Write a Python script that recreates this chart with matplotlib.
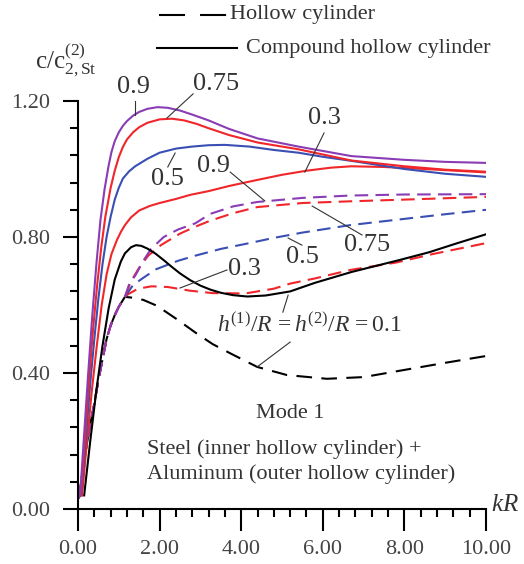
import matplotlib
matplotlib.use("Agg")
import matplotlib.pyplot as plt
from matplotlib.lines import Line2D
from matplotlib.ticker import MultipleLocator

plt.rcParams["font.family"] = "Liberation Serif"
plt.rcParams["mathtext.fontset"] = "custom"
plt.rcParams["mathtext.rm"] = "Liberation Serif"
plt.rcParams["mathtext.it"] = "Liberation Serif:italic"

PURPLE = "#8a3cb4"
RED = "#f0262a"
BLUE = "#3a4fb3"
INK = "#333333"

# compound hollow cylinder (solid)
x_c09 = [0.05, 0.15, 0.25, 0.35, 0.45, 0.55, 0.65, 0.75, 0.82, 0.9, 1.0, 1.1, 1.2, 1.35,
         1.5, 1.7, 1.95, 2.2, 2.5, 2.8, 3.2, 3.7, 4.4, 5.4, 6.7, 8.0, 9.0, 10.0]
y_c09 = [0.04, 0.22, 0.40, 0.57, 0.72, 0.85, 0.94, 1.01, 1.05, 1.082, 1.108, 1.127, 1.141,
         1.157, 1.168, 1.177, 1.182, 1.18, 1.172, 1.16, 1.143, 1.118, 1.09, 1.066, 1.038,
         1.027, 1.021, 1.018]
x_c075 = [0.07, 0.17, 0.27, 0.37, 0.47, 0.57, 0.67, 0.8, 0.9, 1.0, 1.1, 1.2, 1.35, 1.5,
          1.7, 2.0, 2.3, 2.6, 2.9, 3.2, 3.7, 4.4, 5.4, 6.7, 8.0, 9.0, 10.0]
y_c075 = [0.04, 0.21, 0.38, 0.53, 0.66, 0.77, 0.86, 0.945, 0.995, 1.035, 1.065, 1.087,
          1.108, 1.123, 1.136, 1.146, 1.148, 1.143, 1.133, 1.12, 1.1, 1.078, 1.058, 1.025,
          1.008, 0.998, 0.992]
x_c05 = [0.08, 0.2, 0.3, 0.4, 0.5, 0.6, 0.7, 0.8, 0.9, 1.0, 1.1, 1.25, 1.4, 1.7, 2.0, 2.4,
         2.8, 3.2, 3.6, 4.2, 4.8, 5.4, 6.0, 6.7, 8.0, 9.0, 10.0]
y_c05 = [0.04, 0.22, 0.37, 0.5, 0.62, 0.72, 0.8, 0.86, 0.91, 0.945, 0.972, 0.993, 1.008,
         1.03, 1.048, 1.06, 1.066, 1.07, 1.071, 1.066, 1.056, 1.048, 1.036, 1.024, 1.0,
         0.986, 0.977]
x_c03 = [0.1, 0.22, 0.34, 0.46, 0.58, 0.7, 0.82, 0.95, 1.05, 1.15, 1.3, 1.5, 1.75, 2.0,
         2.4, 2.75, 3.2, 3.7, 4.4, 5.0, 5.6, 6.2, 6.7, 7.5, 8.5, 10.0]
y_c03 = [0.04, 0.2, 0.35, 0.48, 0.6, 0.69, 0.75, 0.79, 0.815, 0.835, 0.858, 0.878, 0.891,
         0.9, 0.912, 0.924, 0.935, 0.95, 0.968, 0.983, 0.995, 1.004, 1.008, 1.006, 1.0,
         0.99]
x_c01 = [0.15, 0.3, 0.45, 0.6, 0.75, 0.9, 1.05, 1.15, 1.3, 1.42, 1.55, 1.7, 1.9, 2.1, 2.3,
         2.5, 2.75, 3.0, 3.25, 3.5, 3.8, 4.15, 4.6, 5.2, 5.8, 6.7, 7.3, 7.9, 8.6, 9.3, 10.0]
y_c01 = [0.04, 0.2, 0.35, 0.48, 0.59, 0.675, 0.728, 0.752, 0.77, 0.776, 0.774, 0.766,
         0.751, 0.732, 0.712, 0.693, 0.673, 0.657, 0.645, 0.636, 0.629, 0.625, 0.628, 0.64,
         0.665, 0.697, 0.715, 0.733, 0.755, 0.782, 0.808]

# hollow cylinder (dashed) - shared rising branch
x_rise = [0.02, 0.1, 0.2, 0.3, 0.4, 0.5, 0.6, 0.7, 0.8, 0.9, 1.0, 1.15]
y_rise = [0.03, 0.1, 0.18, 0.25, 0.31, 0.38, 0.44, 0.5, 0.54, 0.57, 0.595, 0.624]
x_h01 = [1.3, 1.6, 1.93, 2.4, 2.9, 3.3, 3.73, 4.39, 5.12, 6.1, 7.0, 7.9, 9.0, 10.0]
y_h01 = [0.622, 0.615, 0.598, 0.56, 0.517, 0.485, 0.458, 0.418, 0.394, 0.383, 0.388,
         0.407, 0.43, 0.45]
x_h03 = [1.23, 1.47, 1.8, 2.2, 2.75, 3.3, 4.1, 4.8, 5.2, 5.8, 6.67, 7.8, 8.7, 10.0]
y_h03 = [0.632, 0.648, 0.655, 0.653, 0.642, 0.635, 0.634, 0.648, 0.663, 0.678, 0.703,
         0.725, 0.75, 0.782]
x_h05 = [1.35, 1.6, 1.91, 2.45, 2.87, 3.5, 4.2, 4.78, 5.5, 6.67, 7.9, 9.0, 10.0]
y_h05 = [0.659, 0.68, 0.705, 0.73, 0.745, 0.765, 0.782, 0.797, 0.813, 0.835, 0.852,
         0.867, 0.88]
x_h075 = [1.3, 1.5, 1.72, 2.03, 2.5, 2.87, 3.24, 3.8, 4.39, 5.5, 6.67, 8.0, 9.0, 10.0]
y_h075 = [0.67, 0.71, 0.745, 0.776, 0.81, 0.83, 0.848, 0.87, 0.888, 0.9, 0.905, 0.91,
          0.914, 0.918]
x_h09 = [1.25, 1.42, 1.6, 1.79, 2.1, 2.45, 2.87, 3.24, 3.8, 4.39, 5.5, 6.67, 8.0, 10.0]
y_h09 = [0.66, 0.69, 0.73, 0.765, 0.8, 0.822, 0.84, 0.868, 0.89, 0.903, 0.915, 0.922,
         0.925, 0.926]

fig = plt.figure(figsize=(5.24, 5.64), dpi=100)
ax = fig.add_axes([0.1489, 0.0975, 0.7786, 0.7234])

lw = 1.5
dash_k = (7.5, 4.5)
dash_c = (6.5, 3.5)
ax.plot(x_rise + x_h01, y_rise + y_h01, color="black", lw=lw, dashes=dash_k)
ax.plot(x_rise + x_h03, y_rise + y_h03, color=RED, lw=lw, dashes=dash_c)
ax.plot(x_rise + x_h05, y_rise + y_h05, color=BLUE, lw=lw, dashes=dash_c)
ax.plot(x_rise + x_h075, y_rise + y_h075, color=RED, lw=lw, dashes=dash_c)
ax.plot(x_rise + x_h09, y_rise + y_h09, color=PURPLE, lw=lw, dashes=dash_c)

ax.plot(x_c01, y_c01, color="black", lw=lw)
ax.plot(x_c03, y_c03, color=RED, lw=lw)
ax.plot(x_c05, y_c05, color=BLUE, lw=lw)
ax.plot(x_c075, y_c075, color=RED, lw=lw)
ax.plot(x_c09, y_c09, color=PURPLE, lw=lw)

ax.set_xlim(0, 10)
ax.set_ylim(0, 1.2)
for s in ["top", "right"]:
    ax.spines[s].set_visible(False)
for s in ["left", "bottom"]:
    ax.spines[s].set_linewidth(1.5)
ax.xaxis.set_major_locator(MultipleLocator(2))
ax.xaxis.set_minor_locator(MultipleLocator(0.4))
ax.yaxis.set_major_locator(MultipleLocator(0.4))
ax.yaxis.set_minor_locator(MultipleLocator(0.08))
ax.xaxis.set_major_formatter(lambda v, p: f"{v:.2f}")
ax.yaxis.set_major_formatter(lambda v, p: f"{v:.2f}")
ax.tick_params(axis="x", which="major", length=16, width=1.5, direction="out",
               labelsize=16, pad=6, labelcolor="#444444")
ax.tick_params(axis="x", which="minor", length=5.5, width=1.5, direction="out")
ax.tick_params(axis="y", which="major", length=11, width=1.5, direction="out",
               labelsize=16, pad=9, labelcolor="#444444")
ax.tick_params(axis="y", which="minor", length=5.5, width=1.5, direction="out")

# curve labels and leader lines
labels = [
    ("0.9", 1.35, 1.241, (1.40, 1.40), (1.2, 1.159)),
    ("0.75", 3.38, 1.25, (2.82, 2.18), (1.221, 1.15)),
    ("0.5", 2.18, 0.971, (2.2, 2.38), (1.006, 1.047)),
    ("0.3", 6.03, 1.15, (6.03, 5.56), (1.106, 0.991)),
    ("0.9", 3.33, 1.009, (3.73, 4.58), (0.991, 0.906)),
    ("0.75", 7.08, 0.776, (6.96, 5.74), (0.806, 0.891)),
    ("0.5", 5.49, 0.741, (5.49, 5.15), (0.776, 0.797)),
    ("0.3", 4.09, 0.706, (3.65, 2.5), (0.703, 0.65)),
]
for txt, tx, ty, lx, ly in labels:
    ax.text(tx, ty, txt, fontsize=19, ha="center", va="center", color=INK)
    ax.plot(lx, ly, color=INK, lw=0.8, clip_on=False)

ax.text(3.41, 0.541, r"$h^{(1)}/R\,=h^{(2)}/R\,=$0.1", fontsize=17, ha="left",
        va="center", color=INK)
ax.plot((5.02, 5.15), (0.579, 0.629), color=INK, lw=0.8)
ax.plot((5.2, 4.39), (0.491, 0.418), color=INK, lw=0.8)

ax.text(5.2, 0.282, "Mode 1", fontsize=16, ha="center", va="center", color=INK)
ax.text(1.69, 0.176, "Steel (inner hollow cylinder) +", fontsize=16, ha="left",
        va="center", color=INK)
ax.text(1.69, 0.103, "Aluminum (outer hollow cylinder)", fontsize=16, ha="left",
        va="center", color=INK)

fig.text(505 / 524, 1 - 505 / 564, r"$kR$", fontsize=18, ha="center", va="center",
         color=INK)
fig.text(35 / 524, 1 - 60 / 564, r"c/c$^{(2)}_{2,\mathrm{St}}$", fontsize=18,
         ha="left", va="center", color=INK)

# legend at top
fig.add_artist(Line2D([159 / 524, 227 / 524], [1 - 15 / 564, 1 - 15 / 564],
                      color="black", lw=1.5, dashes=(12.5, 7.2)))
fig.text(230 / 524, 1 - 15 / 564, "Hollow cylinder", fontsize=16, ha="left",
         va="center", color=INK)
fig.add_artist(Line2D([157 / 524, 237 / 524], [1 - 48 / 564, 1 - 48 / 564],
                      color="black", lw=1.5))
fig.text(246 / 524, 1 - 48 / 564, "Compound hollow cylinder", fontsize=16, ha="left",
         va="center", color=INK)

fig.savefig("out.png", dpi=100)
